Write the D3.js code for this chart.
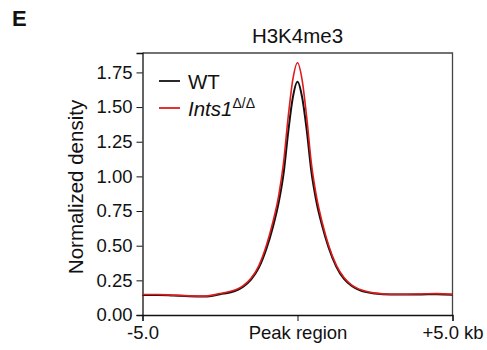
<!DOCTYPE html>
<meta charset="utf-8">
<style>
    body { margin: 0; background: #fff; }
    svg { font-family: "Liberation Sans", Arial, sans-serif; }
    .axis text { font-size: 18.5px; fill: #111; }
    .axis path, .axis line { stroke: #111; }
</style>
<svg width="487" height="350"></svg>
<script src="https://d3js.org/d3.v7.min.js"></script>
<script>

    // positions in kb relative to the peak centre
    var positions = [-5, -4.5, -4, -3.5, -3, -2.5, -2, -1.75, -1.5, -1.25, -1, -0.8, -0.6, -0.45, -0.3, -0.15, 0,
        0.15, 0.3, 0.45, 0.6, 0.8, 1, 1.25, 1.5, 1.75, 2, 2.5, 3, 3.5, 4, 4.5, 5];

    var wt = [0.145, 0.145, 0.140, 0.135, 0.133, 0.150, 0.175, 0.205, 0.255, 0.340, 0.480, 0.630, 0.820, 1.020, 1.320, 1.570, 1.683,
        1.570, 1.330, 1.030, 0.830, 0.640, 0.490, 0.350, 0.260, 0.210, 0.180, 0.155, 0.147, 0.147, 0.148, 0.150, 0.146];

    var ints1 = [0.148, 0.148, 0.143, 0.138, 0.136, 0.155, 0.182, 0.212, 0.265, 0.355, 0.505, 0.665, 0.870, 1.100, 1.430, 1.700, 1.820,
        1.695, 1.420, 1.090, 0.870, 0.665, 0.505, 0.360, 0.270, 0.215, 0.185, 0.158, 0.150, 0.150, 0.152, 0.154, 0.150];

    var yTicks = [0, 0.25, 0.5, 0.75, 1, 1.25, 1.5, 1.75];
    var xTicks = [-5, 0, 5];
    var xTickLabels = ["-5.0", "Peak region", "+5.0 kb"];

    var svg = d3.select("svg");
    var margin = {left: 142.5, right: 34.5, top: 53, bottom: 35};
    var width = 487 - margin.left - margin.right,
        height = 350 - margin.top - margin.bottom;

    var x = d3.scaleLinear().domain([-5, 5]).range([0, width]);
    var y = d3.scaleLinear().domain([0, 1.89]).range([height, 0]);

    var g = svg.append("g").attr("transform", "translate(" + margin.left + "," + margin.top + ")");

    // frame (top and right)
    g.append("path")
        .attr("d", "M0,0H" + width + "V" + height)
        .attr("fill", "none")
        .attr("stroke", "#444")
        .attr("stroke-width", 1.3);

    g.append("g")
        .attr("class", "axis")
        .call(d3.axisLeft(y).tickValues(yTicks).tickFormat(d3.format(".2f")).tickSize(6).tickPadding(4))
        .call(function (a) { a.select(".domain").attr("stroke-width", 1.3); });

    g.append("g")
        .attr("class", "axis")
        .attr("transform", "translate(0," + height + ")")
        .call(d3.axisBottom(x).tickValues(xTicks).tickFormat(function (d, i) { return xTickLabels[i]; })
            .tickSize(6).tickPadding(5))
        .call(function (a) { a.select(".domain").attr("stroke-width", 1.3); });

    var line = d3.line()
        .x(function (d, i) { return x(positions[i]); })
        .y(function (d) { return y(d); })
        .curve(d3.curveMonotoneX);

    g.append("path")
        .datum(wt)
        .attr("fill", "none")
        .attr("stroke", "#111")
        .attr("stroke-width", 2)
        .attr("d", line);

    g.append("path")
        .datum(ints1)
        .attr("fill", "none")
        .attr("stroke", "#e01b1b")
        .attr("stroke-width", 1.6)
        .attr("d", line);

    // legend
    var legend = [{label: "WT", color: "#111"}, {label: "Ints1", color: "#e01b1b", italic: true}];
    var lg = g.selectAll(".legend").data(legend).enter().append("g")
        .attr("transform", function (d, i) { return "translate(16.5," + (28 + i * 27) + ")"; });
    lg.append("line")
        .attr("x1", 0).attr("x2", 21)
        .attr("stroke", function (d) { return d.color; })
        .attr("stroke-width", 1.8);
    var lt = lg.append("text")
        .attr("x", 29).attr("y", 8)
        .attr("font-size", 20.5)
        .attr("fill", "#111");
    lt.append("tspan")
        .attr("font-style", function (d) { return d.italic ? "italic" : null; })
        .text(function (d) { return d.label; });
    lt.filter(function (d) { return d.italic; }).append("tspan")
        .attr("dy", -8).attr("font-size", 14)
        .text("Δ/Δ");

    // title
    g.append("text")
        .attr("x", width / 2).attr("y", -10)
        .attr("text-anchor", "middle")
        .attr("font-size", 20.5)
        .attr("fill", "#111")
        .text("H3K4me3");

    // y label
    svg.append("text")
        .attr("transform", "translate(83," + 187 + ") rotate(-90)")
        .attr("text-anchor", "middle")
        .attr("font-size", 20.5)
        .attr("fill", "#111")
        .text("Normalized density");

    // panel letter
    svg.append("text")
        .attr("x", 12).attr("y", 26)
        .attr("font-size", 22)
        .attr("font-weight", "bold")
        .attr("fill", "#111")
        .text("E");

</script>
